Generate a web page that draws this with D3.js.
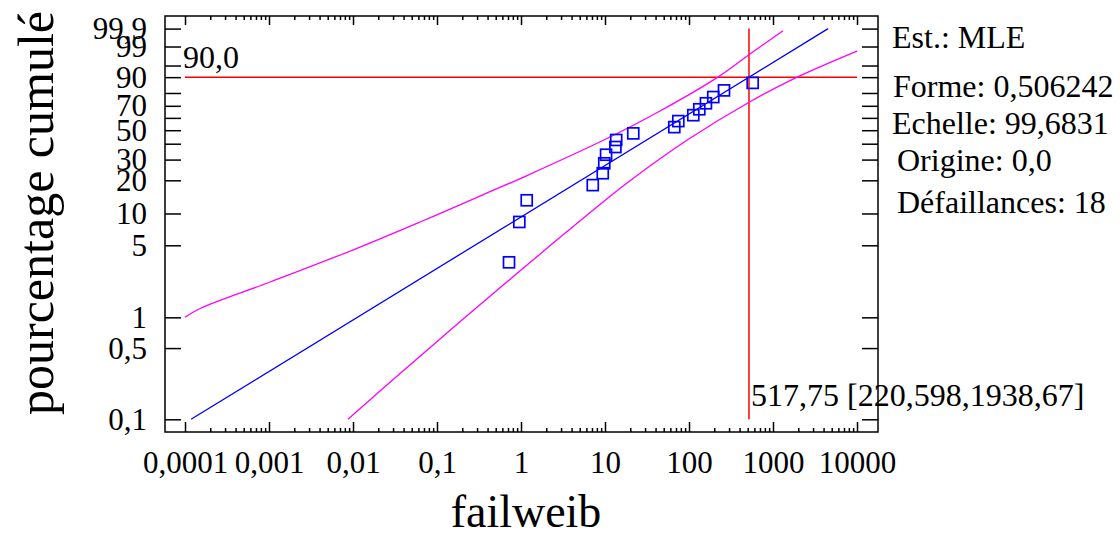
<!DOCTYPE html>
<html>
<head>
<meta charset="utf-8">
<script src="https://cdn.jsdelivr.net/npm/d3@7"></script>
<style>
  body { margin: 0; background: #fff; }
</style>
</head>
<body>
<div id="chart"></div>
<script>
// Failure times (failweib) and their cumulative percentages
var failTimes = [0.72, 0.955, 1.17, 7.15, 9.4, 9.8, 10.3, 13.3, 13.6, 21.7, 66.8, 74.6, 112.5, 132.6, 159, 194.5, 261, 573];
var failPercents = [3.43, 8.33, 13.24, 18.14, 23.04, 27.94, 32.84, 37.75, 42.65, 47.55, 52.45, 57.35, 62.25, 67.16, 72.06, 76.96, 81.86, 86.76];

// Fitted Weibull line (end points)
var fitX = [0.000118, 4530];
var fitP = [0.1, 99.9];

// Confidence bounds
var upperX = [0.0001, 0.000151, 0.00103, 0.0106, 0.0628, 0.325, 1.179, 11.47, 45.2, 220.598, 532, 1315];
var upperP = [1.0, 1.22, 2.21, 4.6, 8.32, 14.47, 22.01, 44.79, 65.69, 90, 97.94, 99.86];
var lowerX = [0.00871, 0.0363, 0.143, 0.562, 1.39, 3.53, 8.72, 19.85, 97.3, 532, 1938.67, 10000];
var lowerP = [0.1, 0.281, 0.746, 1.94, 3.61, 6.76, 12.13, 19.83, 42.96, 73.29, 90, 98.43];

// Percentile marker
var refPercent = 90;
var refTime = 517.75;
var refLabel = "90,0";
var refTimeLabel = "517,75 [220,598,1938,67]";

// Ticks
var xTickValues = [0.0001, 0.001, 0.01, 0.1, 1, 10, 100, 1000, 10000];
var xTickLabels = ["0,0001", "0,001", "0,01", "0,1", "1", "10", "100", "1000", "10000"];
var yTickPercents = [0.1, 0.5, 1, 5, 10, 20, 30, 40, 50, 60, 70, 80, 90, 95, 99, 99.9];
var yTickLabels = ["0,1", "0,5", "1", "5", "10", "20", "30", "", "50", "", "70", "", "90", "", "99", "99,9"];

var statLines = ["Est.: MLE", "Forme: 0,506242", "Echelle: 99,6831", "Origine: 0,0", "D\u00e9faillances: 18"];

var width = 1120, height = 536;
var font = "'Liberation Serif', 'Times New Roman', serif";

// Frame of the plot
var frameLeft = 165, frameRight = 878, frameTop = 16, frameBottom = 432;

var svg = d3.select("#chart")
  .append("svg")
  .attr("width", width)
  .attr("height", height)
  .style("background", "#fff");

// Weibull probability transform
function wb(p) { return Math.log(-Math.log(1 - p / 100)); }

var x = d3.scaleLog().domain([0.0001, 10000]).range([185, 857]);
var yw = d3.scaleLinear().domain([wb(0.1), wb(99.9)]).range([419.3, 28.6]);
function y(p) { return yw(wb(p)); }

// Axes: ticks point inward, labels outside
svg.append("g")
  .attr("transform", "translate(" + frameLeft + ",0)")
  .call(d3.axisLeft(yw)
    .tickValues(yTickPercents.map(wb))
    .tickSizeInner(-16).tickSizeOuter(0).tickPadding(18)
    .tickFormat(function(d, i) { return yTickLabels[i]; }));

svg.append("g")
  .attr("transform", "translate(" + frameRight + ",0)")
  .call(d3.axisRight(yw)
    .tickValues(yTickPercents.map(wb))
    .tickSizeInner(-16).tickSizeOuter(0).tickFormat(""));

var minorTicks = x.ticks().filter(function(d) { return xTickValues.indexOf(d) < 0; });

svg.append("g")
  .attr("transform", "translate(0," + frameBottom + ")")
  .call(d3.axisBottom(x)
    .tickValues(xTickValues)
    .tickSizeInner(-10).tickSizeOuter(0).tickPadding(19)
    .tickFormat(function(d, i) { return xTickLabels[i]; }));

svg.append("g")
  .attr("transform", "translate(0," + frameBottom + ")")
  .call(d3.axisBottom(x).tickValues(minorTicks).tickSizeInner(-4).tickSizeOuter(0).tickFormat(""));

svg.append("g")
  .attr("transform", "translate(0," + frameTop + ")")
  .call(d3.axisTop(x).tickValues(xTickValues).tickSizeInner(-9).tickSizeOuter(0).tickFormat(""));

svg.append("g")
  .attr("transform", "translate(0," + frameTop + ")")
  .call(d3.axisTop(x).tickValues(minorTicks).tickSizeInner(-4).tickSizeOuter(0).tickFormat(""));

svg.selectAll(".domain").remove();
svg.selectAll(".tick line").attr("stroke", "#000").attr("stroke-width", 1.5);
svg.selectAll(".tick text")
  .attr("font-family", font)
  .attr("font-size", 31)
  .attr("fill", "#000");

// Frame
svg.append("rect")
  .attr("x", frameLeft).attr("y", frameTop)
  .attr("width", frameRight - frameLeft).attr("height", frameBottom - frameTop)
  .attr("fill", "none").attr("stroke", "#000").attr("stroke-width", 1.5);

// Percentile reference lines
svg.append("line")
  .attr("x1", x(0.0001)).attr("x2", x(10000))
  .attr("y1", y(refPercent)).attr("y2", y(refPercent))
  .attr("stroke", "#ff0000").attr("stroke-width", 1.5);
svg.append("line")
  .attr("x1", x(refTime)).attr("x2", x(refTime))
  .attr("y1", y(0.1)).attr("y2", y(99.9))
  .attr("stroke", "#ff0000").attr("stroke-width", 1.5);

var line = d3.line()
  .x(function(d) { return x(d[0]); })
  .y(function(d) { return y(d[1]); })
  .curve(d3.curveCatmullRom);

svg.append("path")
  .attr("d", line(d3.zip(upperX, upperP)))
  .attr("fill", "none").attr("stroke", "#ff00ff").attr("stroke-width", 1.3);
svg.append("path")
  .attr("d", line(d3.zip(lowerX, lowerP)))
  .attr("fill", "none").attr("stroke", "#ff00ff").attr("stroke-width", 1.3);
svg.append("path")
  .attr("d", d3.line().x(function(d) { return x(d[0]); }).y(function(d) { return y(d[1]); })(d3.zip(fitX, fitP)))
  .attr("fill", "none").attr("stroke", "#0000ff").attr("stroke-width", 1.3);

// Failure points
var s = 11;
svg.selectAll("rect.pt")
  .data(d3.zip(failTimes, failPercents))
  .enter().append("rect")
  .attr("class", "pt")
  .attr("x", function(d) { return x(d[0]) - s / 2; })
  .attr("y", function(d) { return y(d[1]) - s / 2; })
  .attr("width", s).attr("height", s)
  .attr("fill", "none").attr("stroke", "#0000ff").attr("stroke-width", 1.7);

// Texts
svg.append("text")
  .attr("x", 183).attr("y", 68)
  .attr("font-family", font).attr("font-size", 32)
  .text(refLabel);

svg.append("text")
  .attr("x", 751).attr("y", 406)
  .attr("font-family", font).attr("font-size", 32)
  .text(refTimeLabel);

var statX = [892, 893, 892, 897, 897];
var statY = [48, 97, 134, 171, 213];
svg.selectAll("text.stat")
  .data(statLines)
  .enter().append("text")
  .attr("class", "stat")
  .attr("x", function(d, i) { return statX[i]; })
  .attr("y", function(d, i) { return statY[i]; })
  .attr("font-family", font).attr("font-size", 32)
  .text(function(d) { return d; });

svg.append("text")
  .attr("x", 526).attr("y", 527)
  .attr("text-anchor", "middle")
  .attr("font-family", font).attr("font-size", 46)
  .text("failweib");

svg.append("text")
  .attr("transform", "translate(53,213) rotate(-90)")
  .attr("text-anchor", "middle")
  .attr("font-family", font).attr("font-size", 50)
  .text("pourcentage cumul\u00e9");
</script>
</body>
</html>
